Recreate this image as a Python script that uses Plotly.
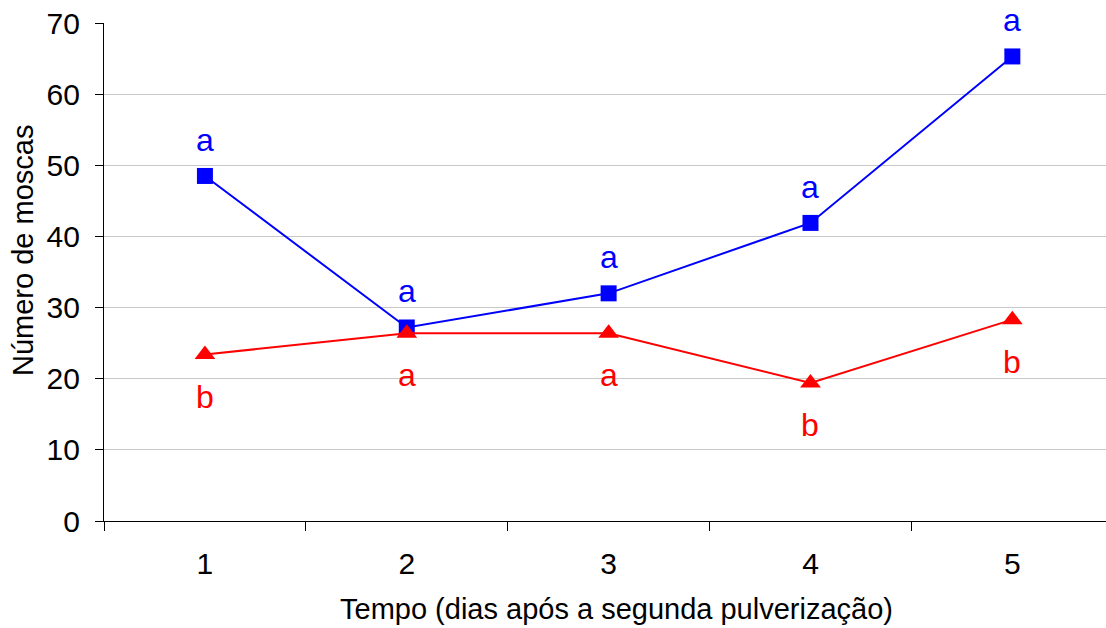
import plotly.graph_objects as go

dias = ["1", "2", "3", "4", "5"]
serie_azul = [48.5, 27.2, 32.0, 41.9, 65.3]
serie_vermelha = [23.4, 26.4, 26.4, 19.4, 28.3]
letras_azul = ["a", "a", "a", "a", "a"]
letras_vermelha = ["b", "a", "a", "b", "b"]
y_ticks = [0, 10, 20, 30, 40, 50, 60, 70]

FONT = "Liberation Sans, Arial, sans-serif"
BLUE = "#0000FF"
RED = "#FF0000"

W, H = 1106, 628
ML, MR, MT, MB = 104, 0, 23, 107
pw, ph = W - ML - MR, H - MT - MB

fig = go.Figure()
fig.add_trace(go.Scatter(
    x=dias, y=serie_azul, mode="lines+markers",
    line=dict(color=BLUE, width=2),
    marker=dict(symbol="square", size=16, color=BLUE),
    showlegend=False, cliponaxis=False))
fig.add_trace(go.Scatter(
    x=dias, y=serie_vermelha, mode="lines+markers",
    line=dict(color=RED, width=2),
    marker=dict(symbol="triangle-up", size=18, color=RED),
    showlegend=False, cliponaxis=False))

annotations = []
for i, (v, t) in enumerate(zip(serie_azul, letras_azul)):
    annotations.append(dict(x=i, y=v, xref="x", yref="y", text=t, showarrow=False,
                            xanchor="center", yanchor="middle",
                            yshift=36, font=dict(family=FONT, size=32, color=BLUE)))
for i, (v, t) in enumerate(zip(serie_vermelha, letras_vermelha)):
    annotations.append(dict(x=i, y=v, xref="x", yref="y", text=t, showarrow=False,
                            xanchor="center", yanchor="middle",
                            yshift=-42, font=dict(family=FONT, size=32, color=RED)))


def px_to_paper(px, py):
    return (px - ML) / pw, 1 - (py - MT) / ph


tx, ty = px_to_paper(23, 251)
annotations.append(dict(x=tx, y=ty, xref="paper", yref="paper", text="Número de moscas",
                        showarrow=False, textangle=-90, xanchor="center", yanchor="middle",
                        font=dict(family=FONT, size=29, color="black")))
tx, ty = px_to_paper(616, 609)
annotations.append(dict(x=tx, y=ty, xref="paper", yref="paper",
                        text="Tempo (dias após a segunda pulverização)", showarrow=False,
                        xanchor="center", yanchor="middle",
                        font=dict(family=FONT, size=29, color="black")))

fig.update_layout(
    width=W, height=H,
    margin=dict(l=ML, r=MR, t=MT, b=MB, pad=0),
    paper_bgcolor="white", plot_bgcolor="white",
    font=dict(family=FONT, size=30, color="black"),
    annotations=annotations,
    xaxis=dict(
        type="category", range=[-0.5, 4.464], automargin=False,
        showline=True, linecolor="black", linewidth=1.3,
        ticks="outside", ticklen=9, tickcolor="black", tickwidth=1.3,
        tickson="boundaries", showgrid=False, zeroline=False,
        tickfont=dict(family=FONT, size=30, color="black"),
        ticklabelstandoff=16,
    ),
    yaxis=dict(
        range=[0, 70], tickvals=y_ticks, ticktext=[str(v) for v in y_ticks],
        automargin=False,
        showline=True, linecolor="black", linewidth=1.3,
        ticks="outside", ticklen=8, tickcolor="black", tickwidth=1.3,
        showgrid=True, gridcolor="#c8c8c8", gridwidth=1.3, zeroline=False,
        tickfont=dict(family=FONT, size=30, color="black"),
        ticklabelstandoff=9,
    ),
)

fig.write_html("out.html", config={"displayModeBar": False},
               post_script="document.body.style.margin='0px';")
